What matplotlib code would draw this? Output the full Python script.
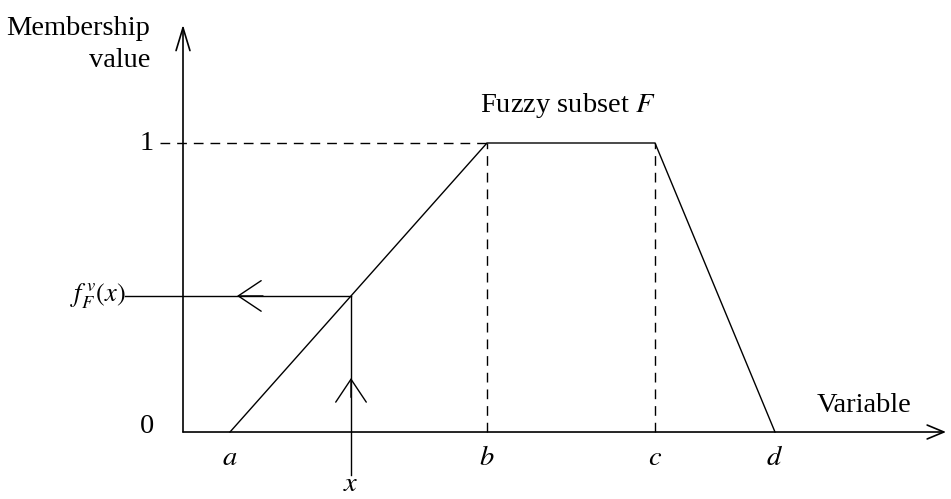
import matplotlib
matplotlib.use("Agg")
import matplotlib.pyplot as plt
import numpy as np

plt.rcParams['font.family'] = ['Liberation Serif', 'DejaVu Serif']
plt.rcParams['mathtext.fontset'] = 'stix'

# trapezoid break points on the variable axis (a, b, c, d) and their membership
point_names = ['a', 'b', 'c', 'd']
point_x = [47, 304, 472, 592]
point_mu = [0, 1, 1, 0]
x_in = 168
mu_in = np.interp(x_in, point_x[:2], point_mu[:2])

fig = plt.figure(figsize=(9.51, 4.99), dpi=100)
ax = fig.add_axes([0, 0, 1, 1])
ax.set_xlim(-183, 768)
ax.set_ylim(-0.2318, 1.4948)
ax.axis('off')

lw = 1.0
# axes with open arrow heads
ax.annotate('', xy=(0, 1.409), xytext=(0, 0),
            arrowprops=dict(arrowstyle='->,head_length=1.65,head_width=0.5',
                            lw=1.2, color='black', mutation_scale=10,
                            shrinkA=0, shrinkB=0))
ax.annotate('', xy=(763, 0), xytext=(0, 0),
            arrowprops=dict(arrowstyle='->,head_length=1.2,head_width=0.5',
                            lw=1.2, color='black', mutation_scale=10,
                            shrinkA=0, shrinkB=0))

# membership function
ax.plot(point_x, point_mu, color='black', lw=lw, solid_joinstyle='miter')

# dashed guides
ax.plot([-23, point_x[1]], [1, 1], color='black', lw=lw, dashes=(7, 5))
ax.plot([point_x[1], point_x[1]], [0, 1], color='black', lw=lw, dashes=(7, 5))
ax.plot([point_x[2], point_x[2]], [0, 1], color='black', lw=lw, dashes=(7, 5))

# lookup lines for x
ax.plot([x_in, x_in], [-0.15, mu_in], color='black', lw=lw)
ax.plot([-58, x_in], [mu_in, mu_in], color='black', lw=lw)
ax.annotate('', xy=(x_in, 0.187), xytext=(x_in, 0.12),
            arrowprops=dict(arrowstyle='->,head_length=1.65,head_width=1.1',
                            lw=lw, color='black', mutation_scale=10,
                            shrinkA=0, shrinkB=0))
ax.annotate('', xy=(54, mu_in), xytext=(80, mu_in),
            arrowprops=dict(arrowstyle='->,head_length=1.65,head_width=1.1',
                            lw=lw, color='black', mutation_scale=10,
                            shrinkA=0, shrinkB=0))

fs = 20.5
ax.text(-33, 1.374, 'Membership', ha='right', va='baseline', fontsize=fs)
ax.text(-33, 1.263, 'value', ha='right', va='baseline', fontsize=fs)
ax.text(-36, 1, '1', ha='center', va='center', fontsize=fs)
ax.text(-36, 0.02, '0', ha='center', va='center', fontsize=fs)
ax.text(-57, mu_in, r'$f_F^{\,v}(x)$', ha='right', va='center', fontsize=19)
ax.text(297, 1.107, r'Fuzzy subset $F$', ha='left', va='baseline', fontsize=fs)
ax.text(634, 0.069, 'Variable', ha='left', va='baseline', fontsize=fs)
for name, px in zip(point_names, point_x):
    ax.text(px, -0.09, '$' + name + '$', ha='center', va='center', fontsize=fs)
ax.text(x_in, -0.226, '$x$', ha='center', va='bottom', fontsize=fs)

fig.savefig('out.png', dpi=100)
